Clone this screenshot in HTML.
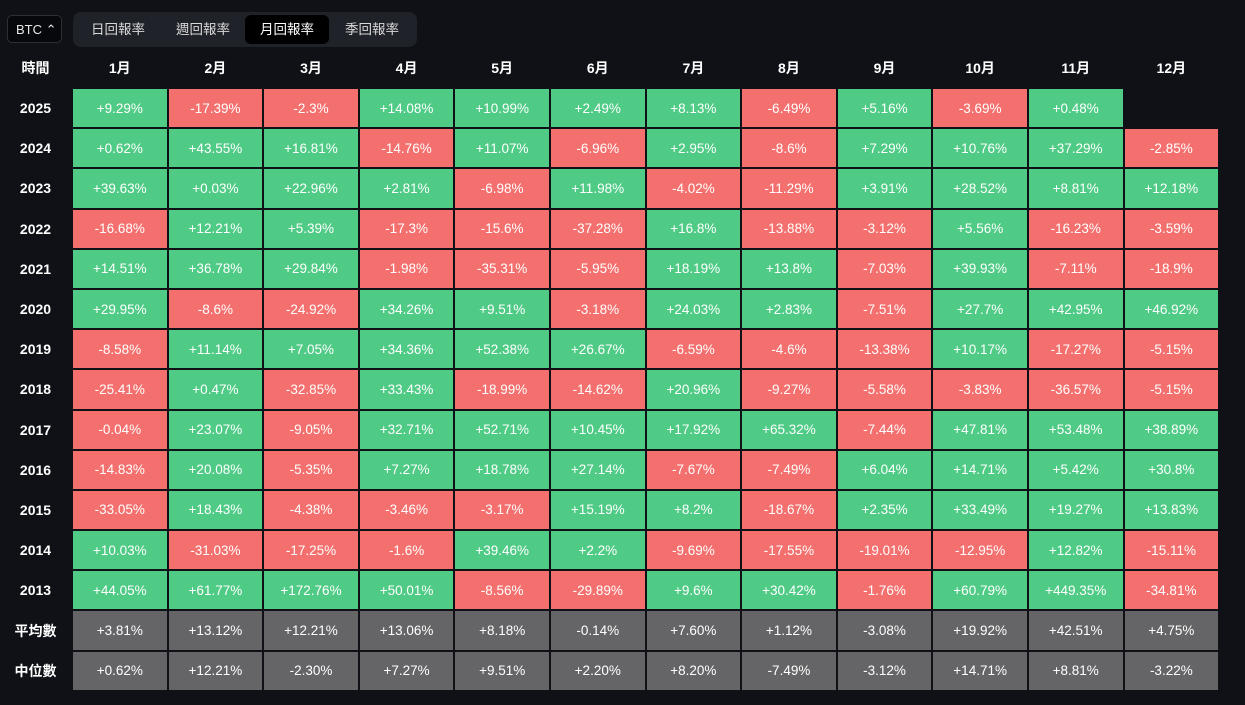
<!DOCTYPE html><html><head><meta charset="utf-8"><style>
body{margin:0;width:1245px;height:705px;background:#0f1117;font-family:"Liberation Sans","Noto Sans CJK TC",sans-serif;color:#fff;overflow:hidden;position:relative}
.sel{position:absolute;left:7px;top:15px;width:55px;height:28px;border:1px solid #2c2f36;border-radius:5px;background:#07080b;font-size:13px;line-height:28px;box-sizing:border-box;padding-left:8px;color:#e8e8e8}
.tabs{position:absolute;left:73px;top:12px;width:344px;height:35px;background:#1f2228;border-radius:8px}
.tab{position:absolute;top:3px;height:29px;line-height:29px;font-size:13.5px;color:#d8d8d8;text-align:center;width:84px}
.tab.on{background:#000;border-radius:6px;color:#fff}
.g{position:absolute;left:0;top:49px;display:grid;grid-template-columns:71px repeat(12,93.6px);grid-template-rows:38px repeat(15,38.2px);gap:2px}
.g div{display:flex;align-items:center;justify-content:center;font-size:13.5px}
.h{font-weight:bold;font-size:14px!important}
.p{background:#4fcb86}.n{background:#f4706e}.m{background:#656567}
</style></head><body>
<div class="sel">BTC ⌃</div>
<div class="tabs"><div class="tab" style="left:3px">日回報率</div><div class="tab" style="left:88px">週回報率</div><div class="tab on" style="left:172px">月回報率</div><div class="tab" style="left:257px">季回報率</div></div>
<div class="g">
<div class="h">時間</div><div class="h">1月</div><div class="h">2月</div><div class="h">3月</div><div class="h">4月</div><div class="h">5月</div><div class="h">6月</div><div class="h">7月</div><div class="h">8月</div><div class="h">9月</div><div class="h">10月</div><div class="h">11月</div><div class="h">12月</div>
<div class="h">2025</div><div class="p">+9.29%</div><div class="n">-17.39%</div><div class="n">-2.3%</div><div class="p">+14.08%</div><div class="p">+10.99%</div><div class="p">+2.49%</div><div class="p">+8.13%</div><div class="n">-6.49%</div><div class="p">+5.16%</div><div class="n">-3.69%</div><div class="p">+0.48%</div><div></div>
<div class="h">2024</div><div class="p">+0.62%</div><div class="p">+43.55%</div><div class="p">+16.81%</div><div class="n">-14.76%</div><div class="p">+11.07%</div><div class="n">-6.96%</div><div class="p">+2.95%</div><div class="n">-8.6%</div><div class="p">+7.29%</div><div class="p">+10.76%</div><div class="p">+37.29%</div><div class="n">-2.85%</div>
<div class="h">2023</div><div class="p">+39.63%</div><div class="p">+0.03%</div><div class="p">+22.96%</div><div class="p">+2.81%</div><div class="n">-6.98%</div><div class="p">+11.98%</div><div class="n">-4.02%</div><div class="n">-11.29%</div><div class="p">+3.91%</div><div class="p">+28.52%</div><div class="p">+8.81%</div><div class="p">+12.18%</div>
<div class="h">2022</div><div class="n">-16.68%</div><div class="p">+12.21%</div><div class="p">+5.39%</div><div class="n">-17.3%</div><div class="n">-15.6%</div><div class="n">-37.28%</div><div class="p">+16.8%</div><div class="n">-13.88%</div><div class="n">-3.12%</div><div class="p">+5.56%</div><div class="n">-16.23%</div><div class="n">-3.59%</div>
<div class="h">2021</div><div class="p">+14.51%</div><div class="p">+36.78%</div><div class="p">+29.84%</div><div class="n">-1.98%</div><div class="n">-35.31%</div><div class="n">-5.95%</div><div class="p">+18.19%</div><div class="p">+13.8%</div><div class="n">-7.03%</div><div class="p">+39.93%</div><div class="n">-7.11%</div><div class="n">-18.9%</div>
<div class="h">2020</div><div class="p">+29.95%</div><div class="n">-8.6%</div><div class="n">-24.92%</div><div class="p">+34.26%</div><div class="p">+9.51%</div><div class="n">-3.18%</div><div class="p">+24.03%</div><div class="p">+2.83%</div><div class="n">-7.51%</div><div class="p">+27.7%</div><div class="p">+42.95%</div><div class="p">+46.92%</div>
<div class="h">2019</div><div class="n">-8.58%</div><div class="p">+11.14%</div><div class="p">+7.05%</div><div class="p">+34.36%</div><div class="p">+52.38%</div><div class="p">+26.67%</div><div class="n">-6.59%</div><div class="n">-4.6%</div><div class="n">-13.38%</div><div class="p">+10.17%</div><div class="n">-17.27%</div><div class="n">-5.15%</div>
<div class="h">2018</div><div class="n">-25.41%</div><div class="p">+0.47%</div><div class="n">-32.85%</div><div class="p">+33.43%</div><div class="n">-18.99%</div><div class="n">-14.62%</div><div class="p">+20.96%</div><div class="n">-9.27%</div><div class="n">-5.58%</div><div class="n">-3.83%</div><div class="n">-36.57%</div><div class="n">-5.15%</div>
<div class="h">2017</div><div class="n">-0.04%</div><div class="p">+23.07%</div><div class="n">-9.05%</div><div class="p">+32.71%</div><div class="p">+52.71%</div><div class="p">+10.45%</div><div class="p">+17.92%</div><div class="p">+65.32%</div><div class="n">-7.44%</div><div class="p">+47.81%</div><div class="p">+53.48%</div><div class="p">+38.89%</div>
<div class="h">2016</div><div class="n">-14.83%</div><div class="p">+20.08%</div><div class="n">-5.35%</div><div class="p">+7.27%</div><div class="p">+18.78%</div><div class="p">+27.14%</div><div class="n">-7.67%</div><div class="n">-7.49%</div><div class="p">+6.04%</div><div class="p">+14.71%</div><div class="p">+5.42%</div><div class="p">+30.8%</div>
<div class="h">2015</div><div class="n">-33.05%</div><div class="p">+18.43%</div><div class="n">-4.38%</div><div class="n">-3.46%</div><div class="n">-3.17%</div><div class="p">+15.19%</div><div class="p">+8.2%</div><div class="n">-18.67%</div><div class="p">+2.35%</div><div class="p">+33.49%</div><div class="p">+19.27%</div><div class="p">+13.83%</div>
<div class="h">2014</div><div class="p">+10.03%</div><div class="n">-31.03%</div><div class="n">-17.25%</div><div class="n">-1.6%</div><div class="p">+39.46%</div><div class="p">+2.2%</div><div class="n">-9.69%</div><div class="n">-17.55%</div><div class="n">-19.01%</div><div class="n">-12.95%</div><div class="p">+12.82%</div><div class="n">-15.11%</div>
<div class="h">2013</div><div class="p">+44.05%</div><div class="p">+61.77%</div><div class="p">+172.76%</div><div class="p">+50.01%</div><div class="n">-8.56%</div><div class="n">-29.89%</div><div class="p">+9.6%</div><div class="p">+30.42%</div><div class="n">-1.76%</div><div class="p">+60.79%</div><div class="p">+449.35%</div><div class="n">-34.81%</div>
<div class="h">平均數</div><div class="m">+3.81%</div><div class="m">+13.12%</div><div class="m">+12.21%</div><div class="m">+13.06%</div><div class="m">+8.18%</div><div class="m">-0.14%</div><div class="m">+7.60%</div><div class="m">+1.12%</div><div class="m">-3.08%</div><div class="m">+19.92%</div><div class="m">+42.51%</div><div class="m">+4.75%</div>
<div class="h">中位數</div><div class="m">+0.62%</div><div class="m">+12.21%</div><div class="m">-2.30%</div><div class="m">+7.27%</div><div class="m">+9.51%</div><div class="m">+2.20%</div><div class="m">+8.20%</div><div class="m">-7.49%</div><div class="m">-3.12%</div><div class="m">+14.71%</div><div class="m">+8.81%</div><div class="m">-3.22%</div>
</div>
</body></html>
